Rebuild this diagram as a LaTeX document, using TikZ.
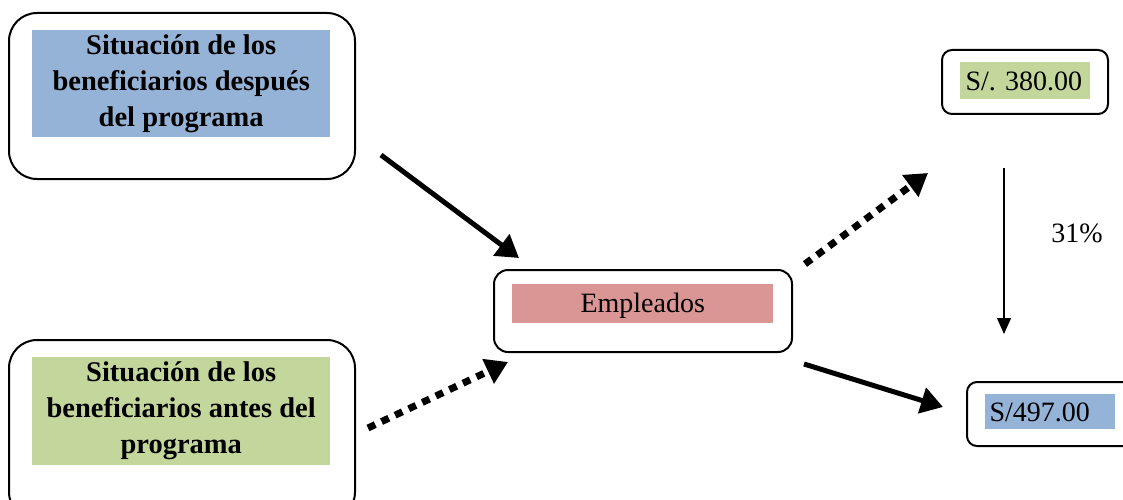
\documentclass[tikz,border=0pt]{standalone}
\usepackage{fontspec}
\setmainfont{Liberation Serif}
\usetikzlibrary{arrows.meta}
\definecolor{cblue}{HTML}{95B3D7}
\definecolor{cgreen}{HTML}{C3D69B}
\definecolor{cpink}{HTML}{D99694}
\begin{document}
\begin{tikzpicture}[x=1pt,y=-1pt,
  outerbox/.style={draw=black,line width=2pt,rounded corners=#1,inner sep=0pt,anchor=north west},
  fillbox/.style={fill=#1,inner sep=0pt,anchor=north west},
  bigtxt/.style={font=\fontsize{28.5}{36}\selectfont\bfseries,align=center},
  midtxt/.style={font=\fontsize{28}{32}\selectfont},
  solidarrow/.style={line width=5pt,-{Triangle[length=22pt,width=26pt]}},
  dotarrow/.style={line width=7pt,dash pattern=on 8pt off 7pt,-{Triangle[length=22pt,width=26pt]}},
  thinarrow/.style={line width=1.3pt,-{Triangle[length=16pt,width=14pt]}}]
\useasboundingbox (0,0) rectangle (1123,500);
\clip (0,0) rectangle (1123,500);
% outer boxes
\node[outerbox=28pt,minimum width=346pt,minimum height=166pt] (b1) at (8,12) {};
\node[outerbox=28pt,minimum width=346pt,minimum height=180pt] (b2) at (8,339) {};
\node[outerbox=14pt,minimum width=298pt,minimum height=82pt] (b3) at (493,269) {};
\node[outerbox=10pt,minimum width=166pt,minimum height=64pt] (b4) at (941,49) {};
\node[outerbox=10pt,minimum width=180pt,minimum height=64pt] (b5) at (966,381) {};
% filled rectangles
\node[fillbox=cblue,minimum width=298pt,minimum height=107pt] (f1) at (32,30) {};
\node[bigtxt] (t1) at (f1.center) {Situación de los\\beneficiarios después\\del programa};
\node[fillbox=cgreen,minimum width=298pt,minimum height=108pt] (f2) at (32,357) {};
\node[bigtxt] (t2) at (f2.center) {Situación de los\\beneficiarios antes del\\programa};
\node[fillbox=cpink,minimum width=261pt,minimum height=39pt] (f3) at (512,284) {};
\node[midtxt,anchor=center] (t3) at ([yshift=-2pt]f3.center) {Empleados};
\node[fillbox=cgreen,minimum width=130pt,minimum height=37pt] (f4) at (960,62) {};
\node[midtxt,anchor=west] (t4) at ([xshift=2pt,yshift=-1pt]f4.west) {S/. 380.00};
\node[fillbox=cblue,minimum width=130pt,minimum height=35pt] (f5) at (985,394) {};
\node[midtxt,anchor=west] (t5) at ([xshift=1pt,yshift=-1pt]f5.west) {S/497.00};
\node[midtxt] (pct) at (1077,233) {31\%};
% arrow endpoints
\coordinate (a1s) at (381,155); \coordinate (a1e) at (519,258);
\coordinate (a2s) at (368,428); \coordinate (a2e) at (508,362);
\coordinate (a3s) at (805,264); \coordinate (a3e) at (928,173);
\coordinate (a4s) at (804,364); \coordinate (a4e) at (943,407);
\coordinate (a5s) at (1004,168); \coordinate (a5e) at (1004,334);
\draw[solidarrow] (a1s) -- (a1e);
\draw[dotarrow] (a2s) -- (a2e);
\draw[dotarrow] (a3s) -- (a3e);
\draw[solidarrow] (a4s) -- (a4e);
\draw[thinarrow] (a5s) -- (a5e);
\end{tikzpicture}
\end{document}
